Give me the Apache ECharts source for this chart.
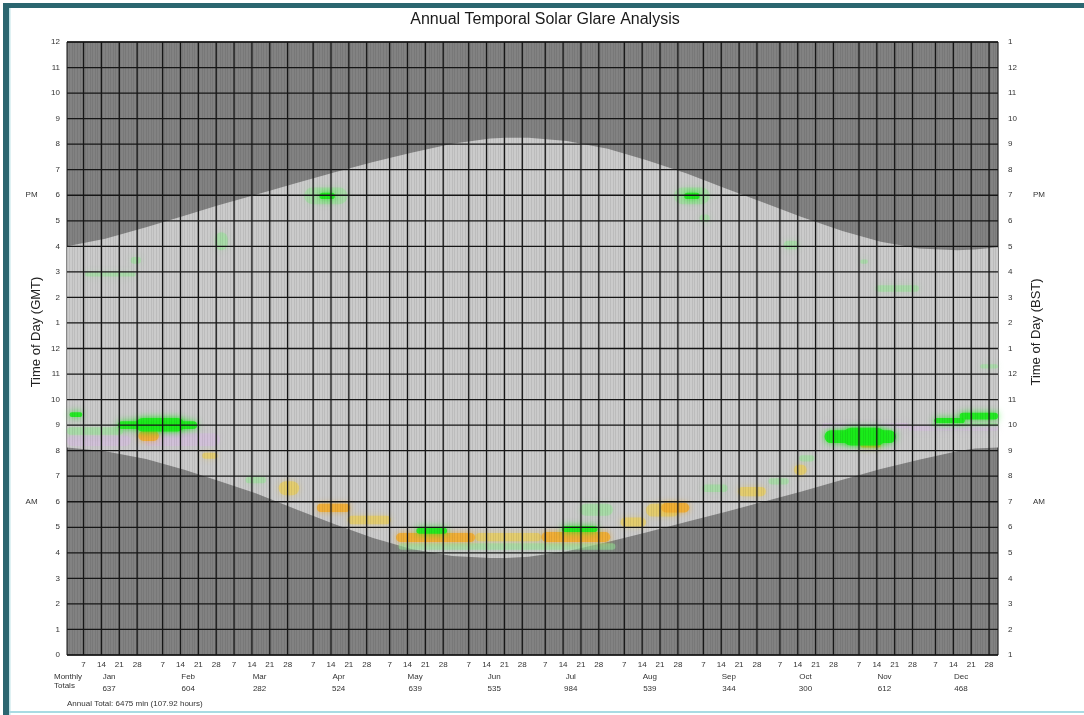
<!DOCTYPE html>
<html><head><meta charset="utf-8">
<script src="https://cdn.jsdelivr.net/npm/echarts@6/dist/echarts.min.js"></script>
<style>html,body{margin:0;padding:0;background:#fff}#c{width:1084px;height:715px}</style>
</head><body><div id="c"></div><script>
// ---------- data ----------
const monthNames = ['Jan','Feb','Mar','Apr','May','Jun','Jul','Aug','Sep','Oct','Nov','Dec'];
const monthStartDays = [0,31,59,90,120,151,181,212,243,273,304,334];
const monthTotals = [637,604,282,524,639,535,984,539,344,300,612,468];
const annualTotalText = 'Annual Total: 6475 min (107.92 hours)';
const tickDaysOfMonth = [7,14,21,28];
const gmtHourLabels = ['0','1','2','3','4','5','6','7','8','9','10','11','12','1','2','3','4','5','6','7','8','9','10','11','12'];
const bstHourLabels = ['1','2','3','4','5','6','7','8','9','10','11','12','1','2','3','4','5','6','7','8','9','10','11','12','1'];

// sunrise / sunset (hours GMT)
const sunDays    = [0,15,31,46,59,74,90,105,120,135,151,166,172,181,196,212,227,243,258,273,288,304,319,334,349,356,365];
const sunsetGMT  = [16.0,16.3,16.75,17.2,17.6,18.02,18.48,18.9,19.3,19.66,20.02,20.22,20.25,20.25,20.12,19.82,19.38,18.85,18.27,17.72,17.15,16.6,16.18,15.92,15.85,15.88,15.96];
const sunriseGMT = [8.12,7.98,7.67,7.25,6.83,6.33,5.7,5.12,4.58,4.15,3.88,3.8,3.8,3.85,4.06,4.42,4.8,5.22,5.6,6.0,6.4,6.86,7.28,7.64,7.98,8.08,8.12];

// glare patches: [startDay, endDay, lowHour, highHour]
const glareGreen = [
  [1,6,9.32,9.5],[20,51,8.85,9.15],[27,46,8.75,9.28],[99,105,17.85,18.1],
  [137,149,4.75,4.98],[194,208,4.82,5.05],[242,248,17.85,18.1],
  [297,325,8.3,8.8],[304,321,8.2,8.9],[340,352,9.08,9.28],[350,365,9.22,9.48]
];
const glareOrange = [
  [28,36,8.38,8.78],[311,319,8.12,8.35],[98,111,5.6,5.92],
  [129,160,4.42,4.78],[186,213,4.42,4.82],[233,244,5.58,5.95]
];
const glareYellow = [
  [160,186,4.45,4.78],[83,91,6.25,6.8],[110,127,5.12,5.45],[217,227,5.02,5.38],
  [227,240,5.42,5.92],[263,274,6.22,6.58],[53,59,7.68,7.92],[285,290,7.05,7.45]
];
const glarePaleGreen = [
  [0,22,8.62,8.92],[7,27,14.82,15.0],[25,29,15.32,15.58],[58,63,15.85,16.55],
  [93,110,17.65,18.3],[238,252,17.65,18.3],[248,252,16.95,17.25],[70,78,6.72,6.98],
  [130,215,4.12,4.38],[201,214,5.45,5.92],[249,259,6.38,6.68],[275,283,6.68,6.92],
  [339,365,8.96,9.08],[317,334,14.22,14.48],[311,314,15.32,15.48],[281,287,15.88,16.22],
  [358,365,11.22,11.38],[287,293,7.58,7.82]
];
const glareLavender = [
  [0,25,8.18,8.58],[30,60,8.18,8.68],[296,330,8.87,9.08],[330,365,8.78,8.98]
];

// ---------- derived ----------
const tickDays = [], tickLabels = [];
monthStartDays.forEach(s => tickDaysOfMonth.forEach(d => { tickDays.push(s + d - 0.5); tickLabels.push(String(d)); }));
const monthCenters = monthStartDays.map(s => s + 16.5);
const hours = gmtHourLabels.map((_, i) => i);

const FONT = 'Liberation Sans, Arial, sans-serif';
const chart = echarts.init(document.getElementById('c'), null, {renderer: 'canvas'});

function patchSeries(data, fill, blur, z) {
  return {
    type: 'custom', xAxisIndex: 0, yAxisIndex: 0, z: z, silent: true,
    data: data,
    encode: {x: [0, 1], y: [2, 3]},
    renderItem: function (params, api) {
      const p0 = api.coord([api.value(0), api.value(3)]);
      const p1 = api.coord([api.value(1), api.value(2)]);
      const w = p1[0] - p0[0], h = p1[1] - p0[1];
      return {type: 'rect', shape: {x: p0[0], y: p0[1], width: w, height: h, r: Math.min(w, h) / 2},
        style: {fill: fill, shadowBlur: blur, shadowColor: fill}};
    }
  };
}

const option = {
  animation: false,
  textStyle: {fontFamily: FONT},
  grid: {left: 67, right: 86, top: 42, bottom: 60, show: true, backgroundColor: '#828282', borderColor: '#111', borderWidth: 1, outerBoundsMode: 'none'},
  xAxis: [
    {type: 'value', min: 0, max: 365, interval: 1, z: 10,
      axisLine: {show: false}, axisTick: {show: false}, axisLabel: {show: false},
      splitLine: {show: true, lineStyle: {color: 'rgba(0,0,0,0.07)', width: 1}}},
    {type: 'value', min: 0, max: 365, position: 'bottom', z: 10,
      axisLine: {show: false}, axisTick: {show: false}, splitLine: {show: false},
      axisLabel: {customValues: tickDays, margin: 6, fontSize: 8, color: '#333',
        formatter: v => { const i = tickDays.findIndex(t => Math.abs(t - v) < 0.01); return i >= 0 ? tickLabels[i] : ''; }}},
    {type: 'value', min: 0, max: 365, position: 'bottom', z: 10,
      axisLine: {show: false}, axisTick: {show: false}, splitLine: {show: false},
      axisLabel: {customValues: monthCenters, margin: 16, fontSize: 8, color: '#333', lineHeight: 12,
        formatter: v => { const i = monthCenters.findIndex(t => Math.abs(t - v) < 0.01); return i >= 0 ? monthNames[i] + '\n' + monthTotals[i] : ''; }}}
  ],
  yAxis: [
    {type: 'value', min: 0, max: 24, interval: 1, position: 'left', z: 10,
      axisLine: {show: false}, axisTick: {show: false}, splitLine: {show: false},
      axisLabel: {margin: 7, color: '#333', fontSize: 8,
        formatter: v => v === 6 ? '{ap|AM}{n|6}' : v === 18 ? '{ap|PM}{n|6}' : '{n|' + gmtHourLabels[v] + '}',
        rich: {n: {fontSize: 8, color: '#333'}, ap: {fontSize: 8, color: '#333', width: 30, align: 'left'}}}},
    {type: 'value', min: 0, max: 24, interval: 1, position: 'right', z: 10,
      axisLine: {show: false}, axisTick: {show: false}, splitLine: {show: false},
      axisLabel: {margin: 10, color: '#333', fontSize: 8,
        formatter: v => v === 6 ? '{nw|7}{ap|AM}' : v === 18 ? '{nw|7}{ap|PM}' : '{n|' + bstHourLabels[v] + '}',
        rich: {n: {fontSize: 8, color: '#333'}, nw: {fontSize: 8, color: '#333', width: 25, align: 'left'}, ap: {fontSize: 8, color: '#333'}}}}
  ],
  graphic: [
    {type: 'rect', left: 3, top: 3, shape: {width: 6, height: 712}, style: {fill: '#2b6670'}, z: 100},
    {type: 'rect', left: 3, top: 3, shape: {width: 1081, height: 5}, style: {fill: '#2b6670'}, z: 100},
    {type: 'rect', left: 9, top: 8, shape: {width: 1.5, height: 707}, style: {fill: '#bfe3e8'}, z: 100},
    {type: 'rect', left: 9, top: 711, shape: {width: 1075, height: 2}, style: {fill: '#a9dbe3'}, z: 100},
    {type: 'text', x: 545, y: 20, style: {text: 'Annual Temporal Solar Glare Analysis', font: '16px ' + FONT, fill: '#1a1a1a', textAlign: 'center', textVerticalAlign: 'middle'}, z: 100},
    {type: 'text', x: 36, y: 332, rotation: Math.PI / 2, style: {text: 'Time of Day (GMT)', font: '13px ' + FONT, fill: '#222', textAlign: 'center', textVerticalAlign: 'middle'}, z: 100},
    {type: 'text', x: 1036, y: 332, rotation: Math.PI / 2, style: {text: 'Time of Day (BST)', font: '13px ' + FONT, fill: '#222', textAlign: 'center', textVerticalAlign: 'middle'}, z: 100},
    {type: 'text', x: 54, y: 677, style: {text: 'Monthly', font: '8px ' + FONT, fill: '#333', textVerticalAlign: 'middle'}, z: 100},
    {type: 'text', x: 54, y: 686, style: {text: 'Totals', font: '8px ' + FONT, fill: '#333', textVerticalAlign: 'middle'}, z: 100},
    {type: 'text', x: 67, y: 704, style: {text: annualTotalText, font: '8px ' + FONT, fill: '#333', textVerticalAlign: 'middle'}, z: 100}
  ],
  series: [
    {
      type: 'custom', xAxisIndex: 0, yAxisIndex: 0, z: 2, silent: true,
      data: [[0, 0]],
      renderItem: function (params, api) {
        const pts = [];
        sunDays.forEach((d, i) => pts.push(api.coord([d, sunsetGMT[i]])));
        for (let i = sunDays.length - 1; i >= 0; i--) pts.push(api.coord([sunDays[i], sunriseGMT[i]]));
        return {type: 'polygon', shape: {points: pts}, style: {fill: '#cbcbcb'}};
      }
    },
    patchSeries(glareLavender, 'rgba(214,186,226,0.5)', 6, 3),
    patchSeries(glarePaleGreen, 'rgba(150,228,150,0.55)', 6, 3),
    patchSeries(glareYellow, 'rgba(234,205,90,0.7)', 6, 4),
    patchSeries(glareOrange, 'rgba(242,172,45,0.85)', 6, 5),
    patchSeries(glareGreen, 'rgba(25,235,25,0.9)', 7, 6),
    {
      type: 'custom', xAxisIndex: 0, yAxisIndex: 0, z: 20, silent: true,
      data: tickDays.map(d => [d, 0]),
      renderItem: function (params, api) {
        const a = api.coord([api.value(0), 0]), b = api.coord([api.value(0), 24]);
        return {type: 'line', shape: {x1: a[0], y1: a[1], x2: b[0], y2: b[1]}, style: {stroke: '#161616', lineWidth: 1.3}};
      }
    },
    {
      type: 'custom', xAxisIndex: 0, yAxisIndex: 0, z: 20, silent: true,
      data: hours.map(h => [0, h]),
      renderItem: function (params, api) {
        const a = api.coord([0, api.value(1)]), b = api.coord([365, api.value(1)]);
        return {type: 'line', shape: {x1: a[0], y1: a[1], x2: b[0], y2: b[1]}, style: {stroke: '#161616', lineWidth: 1.3}};
      }
    }
  ]
};
chart.setOption(option);
</script></body></html>
